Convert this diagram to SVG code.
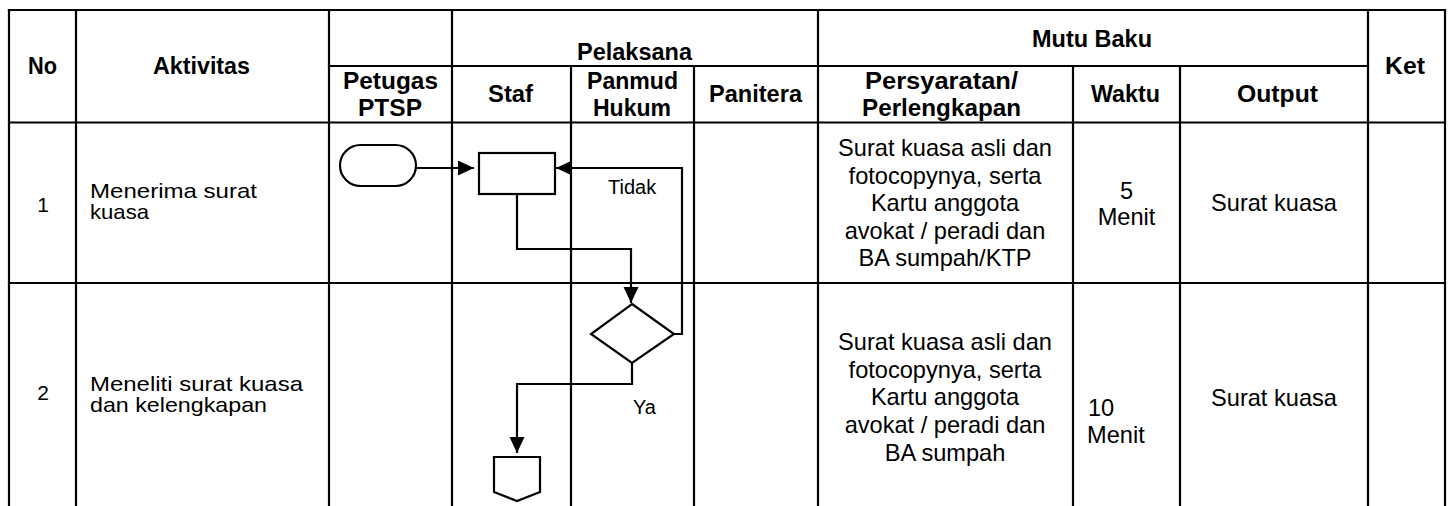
<svg xmlns="http://www.w3.org/2000/svg" width="1452" height="506" viewBox="0 0 1452 506">
<style>
.grid line{stroke:#000;stroke-width:2.2;stroke-linecap:square}
text{font-family:"Liberation Sans",Arial,sans-serif;fill:#000}
.h{font-weight:bold;font-size:23.5px}
.b{font-size:21px}
.r{font-size:23.6px;text-anchor:middle}
.f{font-size:20px}
.shape{fill:#fff;stroke:#000;stroke-width:2.2}
.conn path{fill:none;stroke:#000;stroke-width:2.2}
</style>
<defs>
<marker id="arr" markerUnits="userSpaceOnUse" markerWidth="17" markerHeight="16" refX="16" refY="7.5" orient="auto">
<path d="M0,0 L16,7.5 L0,15 Z" fill="#000"/>
</marker>
</defs>
<rect width="1452" height="506" fill="#fff"/>
<g class="grid" id="table">
<line x1="9" y1="10" x2="1445" y2="10"/>
<line x1="329" y1="66" x2="1368" y2="66"/>
<line x1="9" y1="122.5" x2="1445" y2="122.5"/>
<line x1="9" y1="283" x2="1445" y2="283"/>
<line x1="9" y1="10" x2="9" y2="507"/>
<line x1="76" y1="10" x2="76" y2="507"/>
<line x1="329" y1="10" x2="329" y2="507"/>
<line x1="452" y1="10" x2="452" y2="507"/>
<line x1="571" y1="66" x2="571" y2="507"/>
<line x1="694" y1="66" x2="694" y2="507"/>
<line x1="818" y1="10" x2="818" y2="507"/>
<line x1="1073" y1="66" x2="1073" y2="507"/>
<line x1="1180" y1="66" x2="1180" y2="507"/>
<line x1="1368" y1="10" x2="1368" y2="507"/>
<line x1="1445" y1="10" x2="1445" y2="507"/>
</g>
<g id="header">
<text class="h" x="28" y="74" textLength="29" lengthAdjust="spacingAndGlyphs">No</text>
<text class="h" x="153" y="74" textLength="97" lengthAdjust="spacingAndGlyphs">Aktivitas</text>
<text class="h" x="577" y="59.5" textLength="115" lengthAdjust="spacingAndGlyphs">Pelaksana</text>
<text class="h" x="1032" y="47" textLength="120" lengthAdjust="spacingAndGlyphs">Mutu Baku</text>
<text class="h" x="1385" y="74" textLength="40" lengthAdjust="spacingAndGlyphs">Ket</text>
<text class="h" x="343" y="88.5" textLength="95" lengthAdjust="spacingAndGlyphs">Petugas</text>
<text class="h" x="358" y="116" textLength="64" lengthAdjust="spacingAndGlyphs">PTSP</text>
<text class="h" x="488" y="102" textLength="45" lengthAdjust="spacingAndGlyphs">Staf</text>
<text class="h" x="587" y="88.5" textLength="91" lengthAdjust="spacingAndGlyphs">Panmud</text>
<text class="h" x="593" y="116" textLength="78" lengthAdjust="spacingAndGlyphs">Hukum</text>
<text class="h" x="709" y="102" textLength="93" lengthAdjust="spacingAndGlyphs">Panitera</text>
<text class="h" x="865" y="88.5" textLength="153" lengthAdjust="spacingAndGlyphs">Persyaratan/</text>
<text class="h" x="862" y="116" textLength="159" lengthAdjust="spacingAndGlyphs">Perlengkapan</text>
<text class="h" x="1091" y="102" textLength="69" lengthAdjust="spacingAndGlyphs">Waktu</text>
<text class="h" x="1237" y="102" textLength="81" lengthAdjust="spacingAndGlyphs">Output</text>
</g>
<g id="row1">
<text class="b" x="43" y="212" text-anchor="middle">1</text>
<text class="b" x="90" y="197.5" textLength="167" lengthAdjust="spacingAndGlyphs">Menerima surat</text>
<text class="b" x="90" y="218.5" textLength="59" lengthAdjust="spacingAndGlyphs">kuasa</text>
<text class="r" x="945" y="156">Surat kuasa asli dan</text>
<text class="r" x="945" y="183.5">fotocopynya, serta</text>
<text class="r" x="945" y="211">Kartu anggota</text>
<text class="r" x="945" y="238.5">avokat / peradi dan</text>
<text class="r" x="945" y="266">BA sumpah/KTP</text>
<text class="r" x="1126.5" y="198.5">5</text>
<text class="r" x="1126.5" y="225">Menit</text>
<text class="r" x="1274" y="210.5">Surat kuasa</text>
</g>
<g id="row2">
<text class="b" x="43" y="400" text-anchor="middle">2</text>
<text class="b" x="90" y="390.5" textLength="213" lengthAdjust="spacingAndGlyphs">Meneliti surat kuasa</text>
<text class="b" x="90" y="411.5" textLength="177" lengthAdjust="spacingAndGlyphs">dan kelengkapan</text>
<text class="r" x="945" y="350">Surat kuasa asli dan</text>
<text class="r" x="945" y="377.5">fotocopynya, serta</text>
<text class="r" x="945" y="405">Kartu anggota</text>
<text class="r" x="945" y="432.5">avokat / peradi dan</text>
<text class="r" x="945" y="460.5">BA sumpah</text>
<text class="r" x="1088" y="416" style="text-anchor:start">10</text>
<text class="r" x="1087" y="443" style="text-anchor:start">Menit</text>
<text class="r" x="1274" y="406">Surat kuasa</text>
</g>
<g id="start"><rect class="shape" x="340" y="145" width="76" height="41" rx="20.5"/></g>
<g id="process"><rect class="shape" x="479" y="153" width="76" height="41"/></g>
<g id="decision"><polygon class="shape" points="632,304 674,334 632,363 591,334"/></g>
<g id="offpage"><polygon class="shape" points="494,457 540,457 540,492 517,501 494,492"/></g>
<g class="conn" id="connectors">
<path d="M416,168 L474,168" marker-end="url(#arr)"/>
<path d="M517,194 L517,249 L631,249 L631,303" marker-end="url(#arr)"/>
<path d="M674,334 L682,334 L682,168 L556,168" marker-end="url(#arr)"/>
<path d="M632,363 L632,384 L517,384 L517,453" marker-end="url(#arr)"/>
<text class="f" x="608" y="194">Tidak</text>
<text class="f" x="633" y="414">Ya</text>
</g>
</svg>
